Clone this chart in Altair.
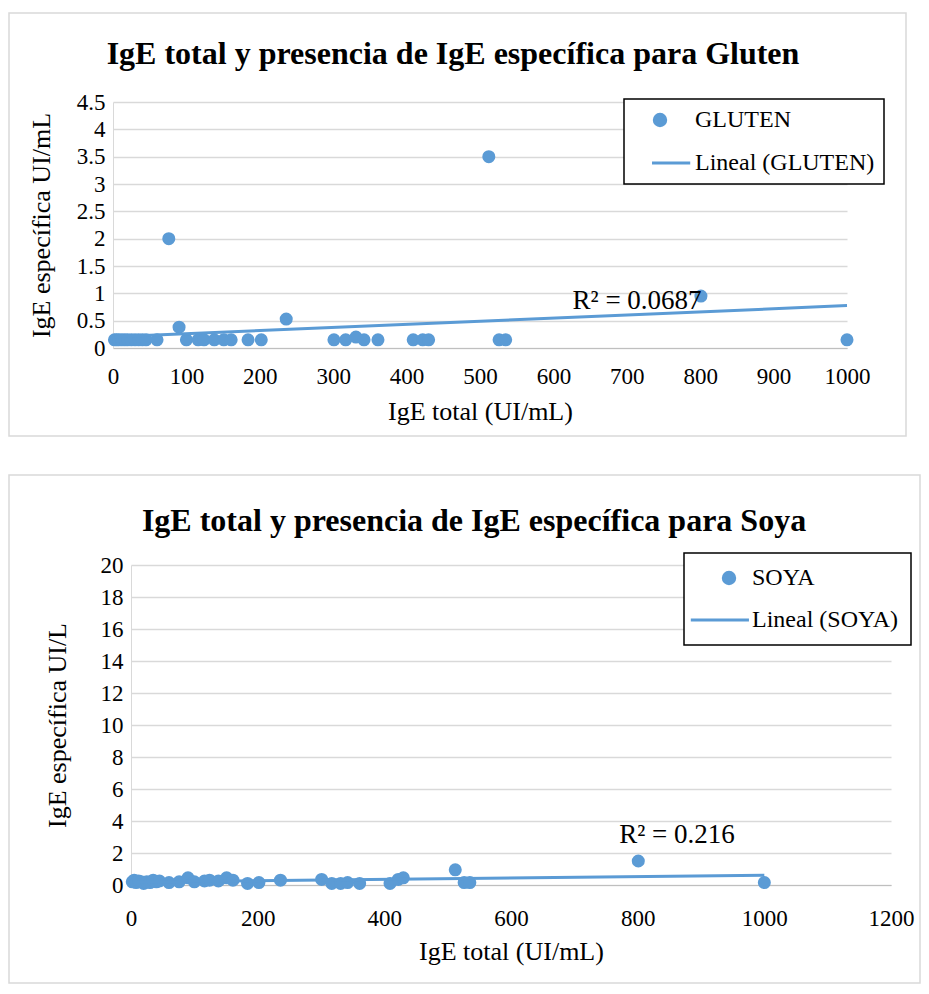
import altair as alt
import pandas as pd

BLUE = "#5B9BD5"
GRID = "#D9D9D9"
FONT = "Liberation Serif"

# IgE total (UI/mL) per patient
ige_total = [2, 5, 8, 12, 16, 20, 25, 30, 35, 40, 45, 60, 76, 90, 100, 116, 124, 138,
             151, 161, 184, 202, 236, 301, 317, 331, 342, 361, 409, 422, 430, 512, 526,
             535, 801, 1000]
# IgE específica Gluten (UI/mL)
gluten = [0.15, 0.15, 0.15, 0.15, 0.15, 0.15, 0.15, 0.15, 0.15, 0.15, 0.15, 0.15, 2.0,
          0.38, 0.15, 0.15, 0.15, 0.15, 0.15, 0.15, 0.15, 0.15, 0.53, 0.15, 0.15, 0.2,
          0.15, 0.15, 0.15, 0.15, 0.15, 3.5, 0.15, 0.15, 0.95, 0.15]
# IgE específica Soya (UI/L)
soya = [0.2, 0.3, 0.15, 0.25, 0.2, 0.1, 0.2, 0.15, 0.3, 0.2, 0.25, 0.15, 0.2, 0.45,
        0.2, 0.25, 0.3, 0.25, 0.45, 0.3, 0.1, 0.15, 0.3, 0.35, 0.1, 0.1, 0.15, 0.1,
        0.1, 0.35, 0.45, 0.95, 0.15, 0.15, 1.5, 0.15]

gluten_ticks_x = [0, 100, 200, 300, 400, 500, 600, 700, 800, 900, 1000]
gluten_ticks_y = [0, 0.5, 1, 1.5, 2, 2.5, 3, 3.5, 4, 4.5]
soya_ticks_x = [0, 200, 400, 600, 800, 1000, 1200]
soya_ticks_y = [0, 2, 4, 6, 8, 10, 12, 14, 16, 18, 20]


def panel(values, name, title, ytitle, xdom, xticks, ydom, yticks, width, height,
          shift, r2text, r2x, r2y, legend_x, legend_y, line_path, sym_offset,
          lab_offset, leg_pad, row_pad, frame, title_dx, title_off, ytitle_pad,
          xlab_pad, xtitle_pad):
    lineal = f"Lineal ({name})"
    df = pd.DataFrame({"total": ige_total, "val": values, "serie": name})
    xscale = alt.Scale(domain=xdom, range=[shift, width], nice=False, zero=True)
    yscale = alt.Scale(domain=ydom, nice=False)
    xaxis = alt.Axis(values=xticks, tickCount=30, format="d", grid=False, ticks=False,
                     labelPadding=xlab_pad, titlePadding=xtitle_pad,
                     domainColor="#BFBFBF", labelFlush=False, labelOverlap=False)
    yaxis = alt.Axis(values=yticks, tickCount=30, format=".1~f", grid=True, ticks=False,
                     labelPadding=8, titlePadding=ytitle_pad, domainColor=GRID,
                     offset=-shift, labelFlush=False, labelOverlap=False)
    leg = alt.Legend(orient="none", legendX=legend_x, legendY=legend_y, title=None,
                     symbolOffset=sym_offset, labelOffset=lab_offset, padding=leg_pad,
                     rowPadding=row_pad, symbolStrokeColor=BLUE, symbolStrokeWidth=3,
                     symbolSize=130, strokeColor="black", fillColor="white",
                     labelLimit=400)
    sdomain = [name, lineal]
    pts = alt.Chart(df).mark_point(filled=True, size=170, opacity=1).encode(
        x=alt.X("total:Q", scale=xscale, axis=xaxis, title="IgE total (UI/mL)"),
        y=alt.Y("val:Q", scale=yscale, axis=yaxis, title=ytitle),
        color=alt.Color("serie:N", scale=alt.Scale(domain=sdomain, range=[BLUE, BLUE]),
                        legend=leg),
        shape=alt.Shape("serie:N", scale=alt.Scale(domain=sdomain,
                                                     range=["circle", line_path]),
                        legend=leg),
    )
    line = alt.Chart(df).transform_regression("total", "val").mark_line(
        color=BLUE, strokeWidth=3).encode(x="total:Q", y="val:Q")
    ann = alt.Chart(pd.DataFrame({"x": [r2x], "y": [r2y], "t": [r2text]})).mark_text(
        font=FONT, fontSize=27, color="black").encode(x="x:Q", y="y:Q", text="t:N")
    box = alt.Chart(pd.DataFrame({"a": [0]})).mark_rect(
        fill="transparent", stroke=GRID, strokeWidth=1.5).encode(
        x=alt.value(frame[0]), x2=alt.value(frame[1]),
        y=alt.value(frame[2]), y2=alt.value(frame[3]))
    return alt.layer(box, pts, line, ann).properties(
        width=width, height=height,
        title=alt.TitleParams(title, anchor="middle", frame="group", dx=title_dx,
                              offset=title_off, baseline="alphabetic"))


c1 = panel(gluten, "GLUTEN", "IgE total y presencia de IgE específica para Gluten",
           "IgE específica UI/mL", [0, 1000], gluten_ticks_x, [0, 4.5], gluten_ticks_y,
           734, 246, 0, "R² = 0.0687", 714, 0.86, 511, -3, "M-1.4,0H5.3", 15, 23, 9, 19,
           (-104, 793, -89, 334), -27, -84, 22, 17, 10)
c2 = panel(soya, "SOYA", "IgE total y presencia de IgE específica para Soya",
           "IgE específica UI/L", [0, 1200], soya_ticks_x, [0, 20], soya_ticks_y,
           778, 320, 18, "R² = 0.216", 862, 3.1, 571, -12, "M-6.7,0H3.5", 20, 11, 13, 18,
           (-104, 807, -90, 418), -28, -89, 30, 22, 8)

chart = alt.vconcat(c1, c2, spacing=37).resolve_scale(
    color="independent", shape="independent"
).properties(
    padding={"left": 0, "top": 4, "right": 0, "bottom": 0}
).configure_view(strokeWidth=0).configure_axis(
    labelFont=FONT, labelFontSize=23, labelColor="black",
    titleFont=FONT, titleFontSize=26, titleFontWeight="normal", titleColor="black",
    gridColor=GRID, gridWidth=1.5
).configure_legend(
    labelFont=FONT, labelFontSize=24, labelColor="black", strokeWidth=1.5
).configure_title(font=FONT, fontSize=32, fontWeight="bold", color="black")

chart.save("out.html", embed_options={"renderer": "svg", "actions": False})
